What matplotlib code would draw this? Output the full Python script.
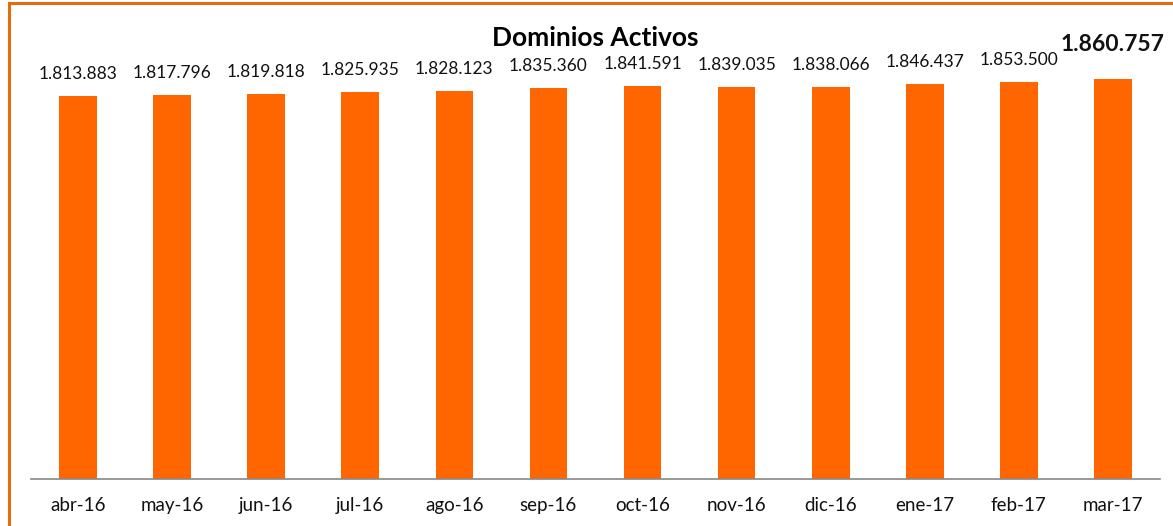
import matplotlib.pyplot as plt
from matplotlib.lines import Line2D

meses = ["abr-16", "may-16", "jun-16", "jul-16", "ago-16", "sep-16",
         "oct-16", "nov-16", "dic-16", "ene-17", "feb-17", "mar-17"]
dominios = [1813883, 1817796, 1819818, 1825935, 1828123, 1835360,
            1841591, 1839035, 1838066, 1846437, 1853500, 1860757]

plt.rcParams["font.family"] = ["Lato", "DejaVu Sans"]

W, H = 1173, 526
fig = plt.figure(figsize=(W / 100, H / 100), dpi=100)
ax = fig.add_axes([31 / W, 1 - 479 / H, (1160 - 31) / W, (479 - 30) / H])

x = range(len(meses))
ax.bar(x, dominios, width=0.4, color="#FF6600")

ax.set_xlim(-0.5, len(meses) - 0.5)
ax.set_ylim(758000, 758000 + 449 * 2757)

def fmt(v):
    return f"{v:,}".replace(",", ".")

for i, v in enumerate(dominios):
    last = i == len(dominios) - 1
    ax.annotate(fmt(v), (i, v), xytext=(0, 17 if last else 10),
                textcoords="offset points", ha="center", va="bottom",
                fontsize=16.5 if last else 12.5,
                fontweight="bold" if last else "normal", color="#111111")

ax.set_xticks(list(x))
ax.set_xticklabels(meses, fontsize=13.5, color="#111111")
ax.tick_params(axis="x", length=0, pad=13)
ax.set_yticks([])
for s in ["top", "right", "left"]:
    ax.spines[s].set_visible(False)
ax.spines["bottom"].set_color("#888888")
ax.spines["bottom"].set_linewidth(1.2)

fig.text(595 / W, 1 - 38 / H, "Dominios Activos", ha="center", va="center",
         fontsize=19, fontweight="bold", color="#000000")

# borde naranja (recortado a la derecha y abajo)
fig.add_artist(Line2D([9 / W, 9 / W], [0, 1 - 2.5 / H], color="#E46C0A", lw=2.2))
fig.add_artist(Line2D([9 / W, 1], [1 - 2.5 / H, 1 - 2.5 / H], color="#E46C0A", lw=2.2))

fig.savefig("out.png", dpi=100)
